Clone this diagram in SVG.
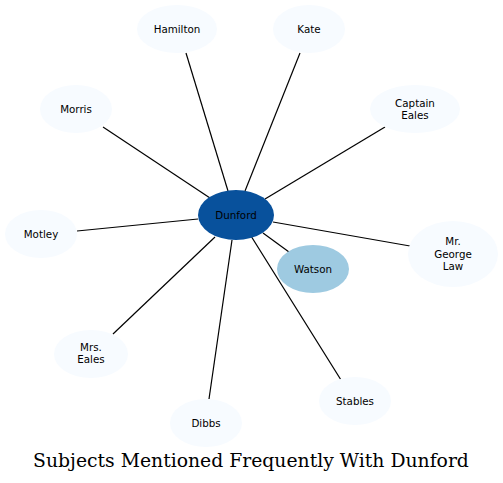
<svg xmlns="http://www.w3.org/2000/svg" width="503" height="483" viewBox="0 0 503 483">
<style>
.n{fill:#f7fbff;stroke:none}
.t{font-family:"DejaVu Sans",sans-serif;font-size:10.3px;fill:#000;text-anchor:middle}
.e{stroke:#000;stroke-width:1.2;fill:none}
.title{font-family:"DejaVu Serif",serif;font-size:18.8px;fill:#000;text-anchor:middle}
</style>
<rect width="503" height="483" fill="#fff"/>
<g id="connectors">
<line class="e" x1="186" y1="53" x2="228" y2="191"/>
<line class="e" x1="300" y1="53" x2="245" y2="191"/>
<line class="e" x1="103" y1="127" x2="210" y2="198"/>
<line class="e" x1="385" y1="127" x2="265" y2="199"/>
<line class="e" x1="77" y1="231" x2="198" y2="219"/>
<line class="e" x1="410" y1="246" x2="273" y2="222"/>
<line class="e" x1="289" y1="252" x2="263" y2="233"/>
<line class="e" x1="113" y1="334" x2="215" y2="237"/>
<line class="e" x1="209" y1="399" x2="232" y2="240"/>
<line class="e" x1="341" y1="380" x2="251" y2="236"/>
</g>
<g id="hamilton"><ellipse class="n" cx="177" cy="29" rx="40" ry="24"/><text class="t" x="177" y="32.5">Hamilton</text></g>
<g id="kate"><ellipse class="n" cx="309" cy="29" rx="36" ry="24"/><text class="t" x="309" y="32.5">Kate</text></g>
<g id="morris"><ellipse class="n" cx="76" cy="109" rx="36" ry="24"/><text class="t" x="76" y="112.5">Morris</text></g>
<g id="captain-eales"><ellipse class="n" cx="415" cy="109" rx="45" ry="24"/><text class="t" x="415" y="106.5">Captain</text><text class="t" x="415" y="118.5">Eales</text></g>
<g id="motley"><ellipse class="n" cx="41" cy="234" rx="36" ry="24"/><text class="t" x="41" y="237.5">Motley</text></g>
<g id="mr-george-law"><ellipse class="n" cx="453" cy="254" rx="45" ry="33"/><text class="t" x="453" y="245">Mr.</text><text class="t" x="453" y="257.5">George</text><text class="t" x="453" y="270">Law</text></g>
<g id="mrs-eales"><ellipse class="n" cx="91" cy="354" rx="37" ry="24"/><text class="t" x="91" y="351">Mrs.</text><text class="t" x="91" y="363">Eales</text></g>
<g id="dibbs"><ellipse class="n" cx="206" cy="423" rx="36" ry="24"/><text class="t" x="206" y="426.5">Dibbs</text></g>
<g id="stables"><ellipse class="n" cx="355" cy="401" rx="36" ry="24"/><text class="t" x="355" y="404.5">Stables</text></g>
<g id="watson"><ellipse cx="313" cy="269" rx="36" ry="24" fill="#9ecae1"/><text class="t" x="313" y="272.5">Watson</text></g>
<g id="dunford"><ellipse cx="236" cy="215" rx="38" ry="25" fill="#08519c"/><text class="t" x="236" y="218.5">Dunford</text></g>
<text class="title" x="251" y="467">Subjects Mentioned Frequently With Dunford</text>
</svg>
